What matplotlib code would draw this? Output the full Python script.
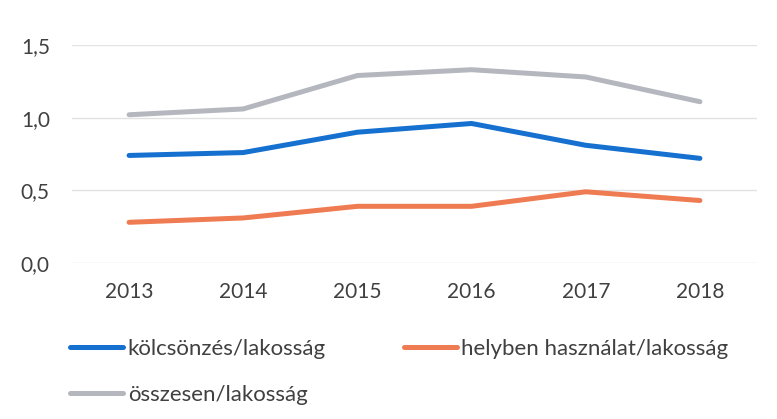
import matplotlib
matplotlib.use("Agg")
import matplotlib.pyplot as plt
from matplotlib.ticker import FuncFormatter

years = ["2013", "2014", "2015", "2016", "2017", "2018"]
kolcsonzes = [0.74, 0.76, 0.90, 0.96, 0.81, 0.72]
helyben = [0.28, 0.31, 0.39, 0.39, 0.49, 0.43]
osszesen = [1.02, 1.06, 1.29, 1.33, 1.28, 1.11]
labels = ["kölcsönzés/lakosság", "helyben használat/lakosság", "összesen/lakosság"]

plt.rcParams['font.family'] = ['Lato', 'DejaVu Sans']

fig = plt.figure(figsize=(7.77, 4.19), dpi=100)
ax = fig.add_axes([72/777, 1-263/419, (757-72)/777, (263-45)/419])

x = list(range(len(years)))
lw = 3.6
l1, = ax.plot(x, kolcsonzes, color="#1570cf", lw=lw, solid_capstyle="round", label=labels[0])
l2, = ax.plot(x, helyben, color="#ef7b52", lw=lw, solid_capstyle="round", label=labels[1])
l3, = ax.plot(x, osszesen, color="#b5b7bf", lw=lw, solid_capstyle="round", label=labels[2])

ax.set_xlim(-0.5, len(years) - 0.5)
ax.set_ylim(0, 1.5)
ax.set_yticks([0, 0.5, 1.0, 1.5])
ax.yaxis.set_major_formatter(FuncFormatter(lambda v, p: f"{v:.1f}".replace(".", ",")))
ax.set_xticks(x)
ax.set_xticklabels(years)
ax.grid(axis="y", color="#e2e2e2", lw=1)
ax.set_axisbelow(True)
for s in ax.spines.values():
    s.set_visible(False)
ax.tick_params(axis="both", length=0, labelsize=15, colors="#404040")
ax.tick_params(axis="y", pad=16)
ax.tick_params(axis="x", pad=14)

fig.legend([l1, l3, l2], [labels[0], labels[2], labels[1]], ncol=2,
           loc="upper left", bbox_to_anchor=(70/777, 1-339/419), frameon=False,
           fontsize=16, handlelength=2.4, handletextpad=0.2, columnspacing=3.5,
           labelspacing=1.15, borderpad=0, borderaxespad=0, labelcolor="#404040")

fig.savefig("out.png", dpi=100)
